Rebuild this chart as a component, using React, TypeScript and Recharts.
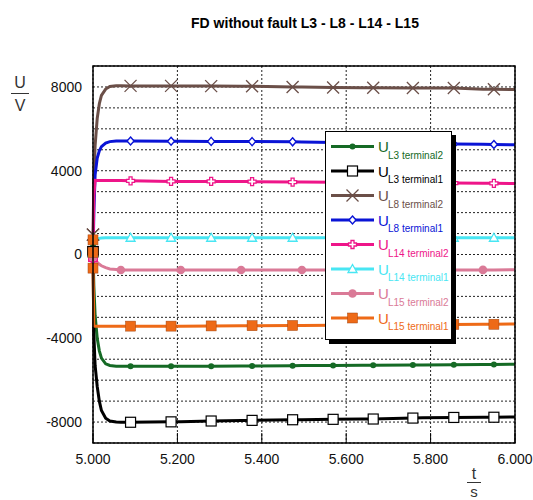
import { LineChart, Line, XAxis, YAxis, CartesianGrid, Legend } from 'recharts'

// time grid (s); three rows at 5.000 carry the switching jump
const T = [
  5.0, 5.0, 5.0, 5.002, 5.005, 5.01, 5.015, 5.02, 5.03, 5.04, 5.055, 5.066, 5.089, 5.185, 5.208,
  5.28, 5.351, 5.377, 5.473, 5.495, 5.569, 5.638, 5.664, 5.758, 5.781, 5.855, 5.924, 5.95, 6.0,
]

const MARK_T = [5.0, 5.089, 5.185, 5.28, 5.377, 5.473, 5.569, 5.664, 5.758, 5.855, 5.95]
const MARK_T_L15T2 = [5.0, 5.066, 5.208, 5.351, 5.495, 5.638, 5.781, 5.924]

const L3_T2 = [
  330, 330, 330, -1500, -2900, -4000, -4600, -4950, -5220, -5300, -5330, -5340, -5340, -5340, -5340,
  -5330, -5320, -5320, -5310, -5300, -5300, -5290, -5290, -5280, -5270, -5260, -5250, -5250, -5240,
]
const L3_T1 = [
  140, 140, 140, -3800, -5300, -6300, -7000, -7450, -7820, -7950, -8000, -8010, -8010, -7990, -7985,
  -7950, -7930, -7920, -7890, -7885, -7870, -7860, -7855, -7810, -7800, -7780, -7775, -7770, -7760,
]
const L8_T2 = [
  950, 950, 950, 3500, 5200, 6500, 7200, 7600, 7900, 8020, 8060, 8060, 8050, 8050, 8050,
  8040, 8030, 8030, 8000, 8000, 7970, 7960, 7960, 7950, 7950, 7950, 7890, 7890, 7880,
]
const L8_T1 = [
  -230, -230, -230, 2000, 3800, 4600, 4950, 5150, 5320, 5390, 5420, 5420, 5420, 5410, 5410,
  5400, 5400, 5390, 5380, 5375, 5350, 5330, 5320, 5300, 5290, 5270, 5260, 5250, 5240,
]
const L14_T2 = [
  -250, -250, -250, 2800, 3540, 3530, 3530, 3530, 3530, 3530, 3530, 3530, 3520, 3490, 3490,
  3490, 3480, 3480, 3460, 3460, 3450, 3440, 3440, 3420, 3420, 3410, 3400, 3400, 3390,
]
const L14_T1 = [
  100, 100, 100, 400, 600, 720, 770, 790, 800, 800, 800, 800, 800, 800, 800,
  800, 800, 800, 800, 800, 800, 800, 800, 800, 800, 800, 800, 800, 800,
]
const L15_T2 = [
  -100, -100, -100, -150, -250, -380, -470, -540, -630, -690, -720, -740, -740, -740, -740,
  -740, -740, -740, -740, -740, -740, -740, -740, -740, -740, -740, -735, -735, -730,
]
const L15_T1 = [
  700, 100, -650, -3400, -3420, -3420, -3420, -3420, -3420, -3420, -3420, -3420, -3420, -3420, -3420,
  -3410, -3400, -3400, -3390, -3390, -3380, -3370, -3370, -3350, -3350, -3340, -3330, -3330, -3320,
]

const X_TICKS = [5.0, 5.2, 5.4, 5.6, 5.8, 6.0]
const Y_TICKS = [-8000, -7000, -6000, -5000, -4000, -3000, -2000, -1000, 0, 1000, 2000, 3000, 4000, 5000, 6000, 7000, 8000]

const SERIES = [
  { id: 'l3t2', sub: 'L3 terminal2', color: '#156a25', marker: 'dot', values: L3_T2, marks: MARK_T },
  { id: 'l3t1', sub: 'L3 terminal1', color: '#000000', marker: 'squareOpen', values: L3_T1, marks: MARK_T },
  { id: 'l8t2', sub: 'L8 terminal2', color: '#6b4f48', marker: 'cross', values: L8_T2, marks: MARK_T },
  { id: 'l8t1', sub: 'L8 terminal1', color: '#0a14d6', marker: 'diamond', values: L8_T1, marks: MARK_T },
  { id: 'l14t2', sub: 'L14 terminal2', color: '#ee1589', marker: 'plus', values: L14_T2, marks: MARK_T },
  { id: 'l14t1', sub: 'L14 terminal1', color: '#48e6f3', marker: 'triangle', values: L14_T1, marks: MARK_T },
  { id: 'l15t2', sub: 'L15 terminal2', color: '#da7a97', marker: 'circle', values: L15_T2, marks: MARK_T_L15T2 },
  { id: 'l15t1', sub: 'L15 terminal1', color: '#ee6a17', marker: 'squareFilled', values: L15_T1, marks: MARK_T },
]

const FONT = '"Liberation Sans", Arial, sans-serif'

function drawMarker(kind: string, cx: number, cy: number, color: string) {
  switch (kind) {
    case 'dot':
      return <circle cx={cx} cy={cy} r={3} fill={color} />
    case 'squareOpen':
      return <rect x={cx - 5} y={cy - 5} width={10} height={10} fill="#fff" stroke={color} strokeWidth={1.2} />
    case 'cross':
      return (
        <g stroke={color} strokeWidth={1.3}>
          <line x1={cx - 6} y1={cy - 6} x2={cx + 6} y2={cy + 6} />
          <line x1={cx - 6} y1={cy + 6} x2={cx + 6} y2={cy - 6} />
        </g>
      )
    case 'diamond':
      return (
        <polygon
          points={`${cx},${cy - 4} ${cx + 3.5},${cy} ${cx},${cy + 4} ${cx - 3.5},${cy}`}
          fill="#fff"
          stroke={color}
          strokeWidth={1.4}
        />
      )
    case 'plus': {
      const a = 4
      const b = 1.5
      const pts = [
        [-b, -a], [b, -a], [b, -b], [a, -b], [a, b], [b, b], [b, a], [-b, a], [-b, b], [-a, b], [-a, -b], [-b, -b],
      ]
        .map(([dx, dy]) => `${cx + dx},${cy + dy}`)
        .join(' ')
      return <polygon points={pts} fill="#fff" stroke={color} strokeWidth={1.3} />
    }
    case 'triangle':
      return (
        <polygon
          points={`${cx},${cy - 4.5} ${cx + 4.5},${cy + 3.5} ${cx - 4.5},${cy + 3.5}`}
          fill="#fff"
          stroke={color}
          strokeWidth={1.3}
        />
      )
    case 'circle':
      return <circle cx={cx} cy={cy} r={4.3} fill={color} />
    case 'squareFilled':
      return <rect x={cx - 5} y={cy - 5} width={10} height={10} fill={color} stroke="#a04410" strokeWidth={0.5} />
    default:
      return null
  }
}

function markerDot(s: (typeof SERIES)[number]) {
  return (props: any) => {
    const { cx, cy, payload, index } = props
    const key = `${s.id}-${index}`
    if (cx == null || cy == null || !s.marks.some((m) => Math.abs(m - payload.t) < 1e-6)) {
      return <g key={key} />
    }
    return <g key={key}>{drawMarker(s.marker, cx, cy, s.color)}</g>
  }
}

function LegendBox() {
  const w = 127
  const h = 209
  return (
    <div
      style={{
        width: w,
        height: h,
        background: '#fff',
        border: '1.5px solid #000',
        boxShadow: '4px 4px 0 #000',
        boxSizing: 'border-box',
      }}
    >
      <svg width={w - 3} height={h - 3} style={{ display: 'block' }}>
        {SERIES.map((s, i) => {
          const y = 14.5 + 24.5 * i
          return (
            <g key={s.id}>
              <line x1={5} y1={y} x2={48} y2={y} stroke={s.color} strokeWidth={3} />
              {drawMarker(s.marker, 26.5, y, s.color)}
              <text x={52} y={y + 5.5} fill={s.color} fontSize={15} fontFamily={FONT}>
                U
              </text>
              <text x={62} y={y + 12} fill={s.color} fontSize={10} fontFamily={FONT}>
                {s.sub}
              </text>
            </g>
          )
        })}
      </svg>
    </div>
  )
}

export default function App() {
  return (
    <div style={{ position: 'absolute', left: 0, top: 0, width: 533, height: 500, background: '#fff' }}>
      <LineChart width={533} height={500} margin={{ top: 66, right: 18, bottom: 0, left: 0 }}>
        <CartesianGrid stroke="#222" strokeDasharray="2 2" strokeWidth={1} />
        <XAxis
          type="number"
          dataKey="t"
          domain={[5, 6]}
          ticks={X_TICKS}
          tickFormatter={(v: number) => v.toFixed(3)}
          height={57}
          axisLine={false}
          tickSize={-10}
          tickMargin={21}
          tickLine={{ stroke: '#000' }}
          tick={{ fill: '#111', fontSize: 14, fontFamily: FONT }}
        />
        <YAxis
          type="number"
          domain={[-9000, 9000]}
          ticks={Y_TICKS}
          tickFormatter={(v: number) => (v % 4000 === 0 ? String(v) : '')}
          width={93}
          axisLine={false}
          tickLine={false}
          tickSize={0}
          tickMargin={11}
          tick={{ fill: '#111', fontSize: 14, fontFamily: FONT }}
        />
        {SERIES.map((s) => (
          <Line
            key={s.id}
            data={T.map((t, i) => ({ t, v: s.values[i] }))}
            dataKey="v"
            name={s.sub}
            type="linear"
            stroke={s.color}
            strokeWidth={3}
            dot={markerDot(s)}
            activeDot={false}
            isAnimationActive={false}
          />
        ))}
        <Legend
          layout="vertical"
          align="center"
          verticalAlign="middle"
          content={() => <LegendBox />}
          wrapperStyle={{ left: 325, top: 131, width: 127, height: 209 }}
        />
      </LineChart>
      <svg
        width={533}
        height={500}
        style={{ position: 'absolute', left: 0, top: 0, pointerEvents: 'none' }}
      >
        <rect x={93} y={66} width={422} height={377} fill="none" stroke="#000" strokeWidth={1.5} />
        <text x={305} y={28} textAnchor="middle" fontSize={14} fontWeight="bold" fontFamily={FONT} fill="#000">
          FD without fault L3 - L8 - L14 - L15
        </text>
        <text x={20} y={88} textAnchor="middle" fontSize={16} fontFamily={FONT} fill="#333">
          U
        </text>
        <line x1={11} y1={93.5} x2={29} y2={93.5} stroke="#333" strokeWidth={1} />
        <text x={20} y={111} textAnchor="middle" fontSize={16} fontFamily={FONT} fill="#333">
          V
        </text>
        <text x={474} y={479} textAnchor="middle" fontSize={16} fontFamily={FONT} fill="#333">
          t
        </text>
        <line x1={467} y1={482.5} x2={481} y2={482.5} stroke="#333" strokeWidth={1} />
        <text x={474} y={497} textAnchor="middle" fontSize={15} fontFamily={FONT} fill="#333">
          s
        </text>
      </svg>
    </div>
  )
}
